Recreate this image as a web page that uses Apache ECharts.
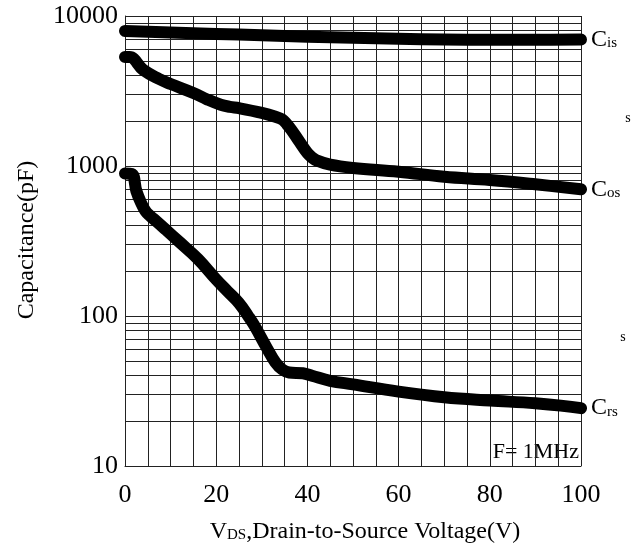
<!DOCTYPE html>
<html>
<head>
<meta charset="utf-8">
<script src="https://cdn.jsdelivr.net/npm/echarts@6/dist/echarts.min.js"></script>
<style>
  html, body { margin: 0; padding: 0; background: #fff; }
  #main { width: 640px; height: 554px; }
</style>
</head>
<body>
<div id="main"></div>
<script>
    // values (VDS in V, capacitance in pF)
    var cissVds = [0, 10, 20, 30, 40, 50, 60, 70, 80, 90, 100];
    var cissPf  = [7950, 7750, 7600, 7450, 7280, 7150, 7050, 6980, 6950, 6950, 6970];

    var cossVds = [0, 1, 4, 7.5, 10, 15, 18, 21, 23, 25, 30, 33, 34.5, 35.5, 36.5, 38, 40, 41, 42, 45, 50, 60, 70, 80, 90, 100];
    var cossPf  = [5330, 5330, 4370, 3800, 3520, 3070, 2780, 2560, 2480, 2430, 2260, 2130, 2040, 1900, 1740, 1490, 1220, 1140, 1090, 1020, 970, 916, 848, 807, 755, 700];

    var crssVds = [0, 1.5, 2.5, 3.5, 4.5, 5.5, 7, 9, 12, 16, 20, 22.5, 25, 27, 28.5, 31, 33, 34.5, 36, 39, 41, 45, 50, 60, 70, 80, 90, 100];
    var crssPf  = [890, 885, 680, 570, 500, 465, 425, 375, 310, 240, 175, 146, 122, 100, 85, 62, 49, 44, 42, 41.5, 40, 37, 35, 31.3, 28.7, 27.3, 26.2, 24.3];

    // horizontal log grid lines between the decades
    var minorGrid = [20, 30, 40, 50, 60, 70, 80, 90,
                     200, 300, 400, 500, 600, 700, 800, 900,
                     2000, 3000, 4000, 5000, 6000, 7000, 8000, 9000];

    var xLabels = [0, 20, 40, 60, 80, 100];

    function pairs(xs, ys) {
        var out = [];
        for (var i = 0; i < xs.length; i++) {
            out.push([xs[i], ys[i]]);
        }
        return out;
    }

    var serif = 'Liberation Serif';
    var gridColor = '#222';

    function curve(name, xs, ys, sub) {
        return {
            name: name,
            type: 'line',
            data: pairs(xs, ys),
            smooth: 0.4,
            symbol: 'none',
            z: 5,
            lineStyle: { color: '#000', width: 12, cap: 'round', join: 'round' },
            endLabel: {
                show: true,
                distance: 10,
                formatter: '{c|C}{s|' + sub + '}',
                rich: {
                    c: { fontFamily: serif, fontSize: 24, color: '#000' },
                    s: { fontFamily: serif, fontSize: 15, color: '#000', padding: [7, 0, 0, 0] }
                }
            }
        };
    }

    var dom = document.getElementById('main');
    var myChart = echarts.init(dom);

    var option = {
        animation: false,
        backgroundColor: '#fff',
        grid: { left: 125, right: 59, top: 16, bottom: 88 },
        xAxis: {
            type: 'value',
            min: 0,
            max: 100,
            interval: 5,
            axisLine: { show: true, lineStyle: { color: gridColor, width: 1 } },
            axisTick: { show: false },
            axisLabel: {
                fontFamily: serif, fontSize: 26, color: '#000', margin: 16,
                formatter: function (v) { return xLabels.indexOf(v) >= 0 ? String(v) : ''; }
            },
            splitLine: { show: true, lineStyle: { color: gridColor, width: 1 } }
        },
        yAxis: {
            type: 'log',
            logBase: 10,
            min: 10,
            max: 10000,
            axisLine: { show: true, lineStyle: { color: gridColor, width: 1 } },
            axisTick: { show: false },
            axisLabel: {
                fontFamily: serif, fontSize: 26, color: '#000', margin: 7,
                formatter: function (v) { return String(Math.round(v)); }
            },
            splitLine: { show: true, lineStyle: { color: gridColor, width: 1 } }
        },
        graphic: [
            {
                type: 'text', x: 365, y: 532,
                style: {
                    text: 'V{sub|DS},Drain-to-Source Voltage(V)',
                    font: '24px ' + serif, fill: '#000',
                    align: 'center', verticalAlign: 'middle',
                    rich: { sub: { fontFamily: serif, fontSize: 15, padding: [7, 0, 0, 0] } }
                }
            },
            {
                type: 'text', x: 27, y: 240, rotation: Math.PI / 2,
                style: {
                    text: 'Capacitance(pF)', font: '24px ' + serif, fill: '#000',
                    align: 'center', verticalAlign: 'middle'
                }
            },
            {
                type: 'text', x: 579, y: 452,
                style: { text: 'F= 1MHz', font: '22px ' + serif, fill: '#000', align: 'right', verticalAlign: 'middle' }
            },
            {
                type: 'text', x: 628, y: 118,
                style: { text: 's', font: '14px ' + serif, fill: '#000', align: 'center', verticalAlign: 'middle' }
            },
            {
                type: 'text', x: 623, y: 337,
                style: { text: 's', font: '14px ' + serif, fill: '#000', align: 'center', verticalAlign: 'middle' }
            }
        ],
        series: [
            {
                name: 'grid',
                type: 'line',
                data: [],
                z: 1,
                silent: true,
                markLine: {
                    silent: true,
                    symbol: 'none',
                    label: { show: false },
                    lineStyle: { color: gridColor, width: 1, type: 'solid' },
                    data: minorGrid.map(function (v) { return { yAxis: v }; })
                }
            },
            curve('Ciss', cissVds, cissPf, 'is'),
            curve('Coss', cossVds, cossPf, 'os'),
            curve('Crss', crssVds, crssPf, 'rs')
        ]
    };

    myChart.setOption(option);
</script>
</body>
</html>
